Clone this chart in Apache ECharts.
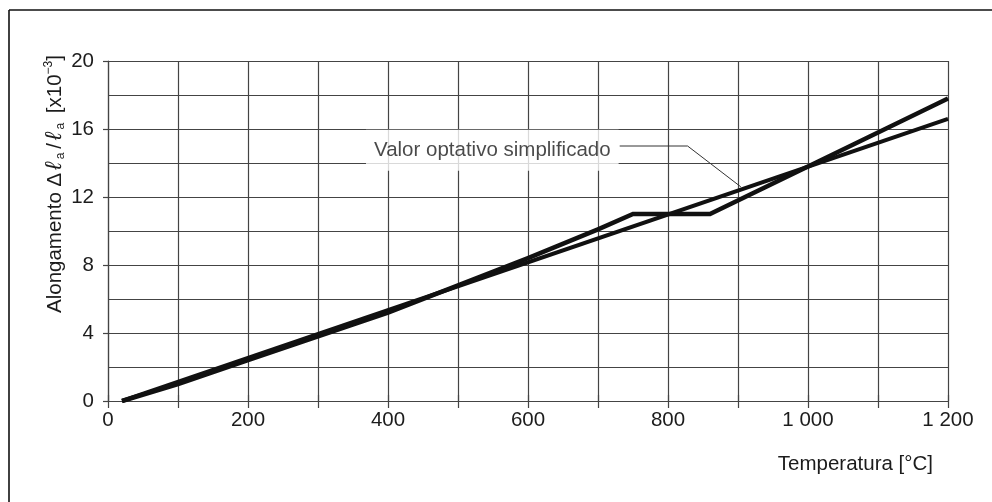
<!DOCTYPE html>
<html>
<head>
<meta charset="utf-8">
<script src="https://cdn.jsdelivr.net/npm/echarts@6/dist/echarts.min.js"></script>
<style>
html,body{margin:0;padding:0;background:#fff;}
#c{width:992px;height:502px;}
</style>
</head>
<body>
<div id="c"></div>
<script>
// Data
const tempActual = [20, 100, 200, 300, 400, 500, 600, 700, 750, 860, 1000, 1100, 1200];
const elongActual = [0, 1.0, 2.4, 3.8, 5.2, 6.8, 8.4, 10.1, 11.0, 11.0, 13.8, 15.8, 17.8];
const tempSimplified = [20, 1200];
const elongSimplified = [0, 16.6];
const leaderTemp = [731, 828, 904];
const leaderElong = [15.0, 15.0, 12.6];
const annotationText = 'Valor optativo simplificado';
const annotationPos = [549, 14.75];
const xTicks = [0, 200, 400, 600, 800, 1000, 1200];
const xTickLabels = ['0', '200', '400', '600', '800', '1 000', '1 200'];
const yTicks = [0, 4, 8, 12, 16, 20];
const yTickLabels = ['0', '4', '8', '12', '16', '20'];
const xAxisTitle = 'Temperatura [°C]';

const FONT = "'Liberation Sans', Arial, Helvetica, sans-serif";
const FS = 20.5;
const GRIDC = '#444';
const TXT = '#1c1c1c';

const zip = (a, b) => a.map((v, i) => [v, b[i]]);

const chart = echarts.init(document.getElementById('c'), null, {renderer: 'canvas'});

chart.setOption({
  animation: false,
  backgroundColor: '#fff',
  grid: {left: 108, right: 44, top: 61, bottom: 101, containLabel: false},
  xAxis: [{
    type: 'value', min: 0, max: 1200, interval: 100, position: 'bottom',
    axisLine: {show: true, lineStyle: {color: GRIDC, width: 1.2}},
    axisTick: {show: true, length: 7, lineStyle: {color: GRIDC, width: 1.2}},
    splitLine: {show: true, lineStyle: {color: GRIDC, width: 1.2}},
    axisLabel: {
      fontSize: FS, color: TXT, fontFamily: FONT, margin: 9,
      formatter: v => { const i = xTicks.indexOf(v); return i >= 0 ? xTickLabels[i] : ''; }
    }
  }, {
    type: 'value', min: 0, max: 1200, interval: 100, position: 'top',
    axisLine: {show: false},
    axisTick: {show: true, length: 6, lineStyle: {color: GRIDC, width: 1.2}},
    splitLine: {show: false},
    axisLabel: {show: false}
  }],
  yAxis: [{
    type: 'value', min: 0, max: 20, interval: 2, position: 'left',
    axisLine: {show: true, lineStyle: {color: GRIDC, width: 1.2}},
    axisTick: {show: false},
    splitLine: {show: true, lineStyle: {color: GRIDC, width: 1.2}},
    axisLabel: {show: false}
  }, {
    type: 'value', min: 0, max: 20, interval: 4, position: 'left',
    axisLine: {show: false},
    axisTick: {show: true, length: 5, lineStyle: {color: GRIDC, width: 1.2}},
    splitLine: {show: false},
    axisLabel: {
      fontSize: FS, color: TXT, fontFamily: FONT, margin: 14,
      formatter: v => { const i = yTicks.indexOf(v); return i >= 0 ? yTickLabels[i] : ''; }
    }
  }],
  series: [
    {
      type: 'line', name: 'actual', data: zip(tempActual, elongActual),
      showSymbol: false, symbol: 'none', smooth: false,
      lineStyle: {color: '#111', width: 4.5, join: 'miter'}, z: 5
    },
    {
      type: 'line', name: 'simplified', data: zip(tempSimplified, elongSimplified),
      showSymbol: false, symbol: 'none',
      lineStyle: {color: '#111', width: 4}, z: 5
    },
    {
      type: 'line', name: 'leader', data: zip(leaderTemp, leaderElong),
      showSymbol: false, symbol: 'none',
      lineStyle: {color: '#333', width: 1}, z: 6
    },
    {
      type: 'scatter', name: 'annotation', data: [annotationPos],
      symbolSize: 1, itemStyle: {color: 'rgba(0,0,0,0)'}, z: 7,
      label: {
        show: true, position: 'inside', formatter: annotationText,
        fontSize: FS, color: TXT, fontFamily: FONT,
        backgroundColor: '#fff', padding: [10, 8]
      }
    }
  ],
  graphic: [
    {type: 'line', shape: {x1: 9, y1: 10, x2: 992, y2: 10}, style: {stroke: '#111', lineWidth: 1.6}},
    {type: 'line', shape: {x1: 9, y1: 10, x2: 9, y2: 502}, style: {stroke: '#111', lineWidth: 1.6}},
    {
      type: 'text', x: 55, y: 184, rotation: Math.PI / 2,
      style: {
        text: '{n|Alongamento Δ}{i|ℓ}{s|a}{n|/}{i|ℓ}{s|a}{n| [x10}{p|−3}{n|]}',
        align: 'center', verticalAlign: 'middle', fill: TXT,
        rich: {
          n: {fontSize: FS, fontFamily: FONT, lineHeight: 24, fill: TXT},
          i: {fontSize: 23, fontFamily: FONT, fontStyle: 'italic', lineHeight: 24, fill: TXT, padding: [0, 1, 0, 3]},
          s: {fontSize: 12, fontFamily: FONT, lineHeight: 13, verticalAlign: 'bottom', fill: TXT, padding: [0, 4, 0, 2]},
          p: {fontSize: 12, fontFamily: FONT, lineHeight: 13, verticalAlign: 'top', fill: TXT}
        }
      }
    },
    {
      type: 'text', x: 933, y: 464,
      style: {text: xAxisTitle, fontSize: FS, fontFamily: FONT, fill: TXT, align: 'right', verticalAlign: 'middle'}
    }
  ]
});
</script>
</body>
</html>
